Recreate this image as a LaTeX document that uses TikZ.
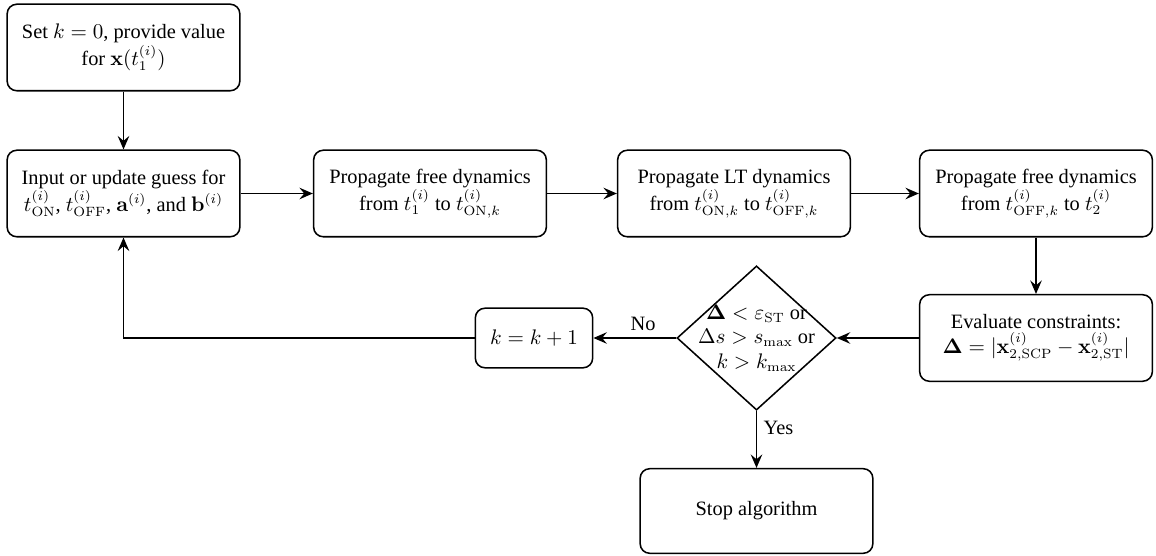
\documentclass[tikz,border=0pt]{standalone}
\usepackage[no-math]{fontspec}
\setmainfont{LiberationSerif}[Extension=.ttf, UprightFont=*-Regular, BoldFont=*-Bold, ItalicFont=*-Italic, BoldItalicFont=*-BoldItalic]
\usepackage{amsmath,bm}
\usetikzlibrary{shapes.geometric,arrows.meta}
\begin{document}
\begin{tikzpicture}[x=0.52pt, y=-0.52pt, font=\fontsize{10.6}{12.8}\selectfont,
    >={Stealth[length=7pt,width=6pt,inset=2.5pt]}, line width=0.8pt,
    box/.style={draw, rounded corners=5pt, align=center, minimum width=121pt, minimum height=45pt, inner sep=2pt},
    decision/.style={draw, diamond, inner sep=0pt, minimum width=82.7pt, minimum height=75pt}]
  \useasboundingbox (0,0) rectangle (1156,556);
  % Cajas principales
  \node[box] (init) at (123.5,47.5) {Set $k=0$, provide value\\ for $\mathbf{x}(t_1^{(i)})$};
  \node[box] (guess) at (123.5,193.5) {Input or update guess for\\ $t_{\mathrm{ON}}^{(i)}$, $t_{\mathrm{OFF}}^{(i)}$, $\mathbf{a}^{(i)}$, and $\mathbf{b}^{(i)}$};
  \node[box] (free1) at (430,193.5) {Propagate free dynamics\\ from $t_1^{(i)}$\ to $t_{\mathrm{ON},k}^{(i)}$};
  \node[box] (lt) at (734,193.5) {Propagate LT dynamics\\ from $t_{\mathrm{ON},k}^{(i)}$ to $t_{\mathrm{OFF},k}^{(i)}$};
  \node[box] (free2) at (1036,193.5) {Propagate free dynamics\\ from $t_{\mathrm{OFF},k}^{(i)}$ to $t_2^{(i)}$};
  \node[box] (eval) at (1036,338) {Evaluate constraints:\\ $\bm{\Delta} = |\mathbf{x}_{2,\mathrm{SCP}}^{(i)} - \mathbf{x}_{2,\mathrm{ST}}^{(i)}|$};
  % Decision
  \node[decision, label={[align=center]center:{$\bm{\Delta} < \varepsilon_{\mathrm{ST}}$ or\\ $\Delta s > s_{\max}$ or\\ $k > k_{\max}$}}] (check) at (756.5,338) {};
  \node[box, minimum width=61pt, minimum height=31pt] (incr) at (534,338) {$k=k+1$};
  \node[box, minimum height=44pt] (stop) at (756.5,511) {Stop algorithm};
  % Flechas
  \draw[->] (init) -- (guess);
  \draw[->] (guess) -- (free1);
  \draw[->] (free1) -- (lt);
  \draw[->] (lt) -- (free2);
  \draw[->] (free2) -- (eval);
  \draw[->] (eval) -- (check);
  \draw[->] (check) -- node[above, pos=0.4] {No} (incr);
  \draw[->] (check) -- node[right, pos=0.3] {Yes} (stop);
  \draw[->] (incr) -| (guess);
\end{tikzpicture}
\end{document}
